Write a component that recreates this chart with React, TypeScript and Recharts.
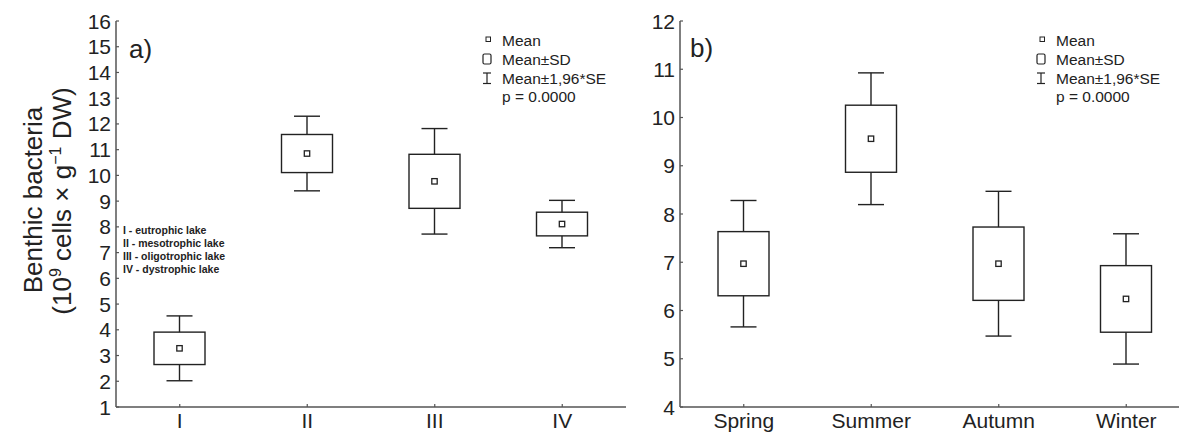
import { ComposedChart, Bar, XAxis, YAxis } from "recharts"

// panel a: lake types
const lakeNames = ["I", "II", "III", "IV"]
const lakeMean = [3.28, 10.85, 9.77, 8.11]
const lakeSd = [0.63, 0.74, 1.05, 0.46]
const lakeCi = [1.26, 1.45, 2.05, 0.92] // 1.96*SE
const lakeTicks = [1, 2, 3, 4, 5, 6, 7, 8, 9, 10, 11, 12, 13, 14, 15, 16]

// panel b: seasons
const seasonNames = ["Spring", "Summer", "Autumn", "Winter"]
const seasonMean = [6.97, 9.56, 6.97, 6.24]
const seasonSd = [0.665, 0.695, 0.76, 0.69]
const seasonCi = [1.31, 1.365, 1.5, 1.35]
const seasonTicks = [4, 5, 6, 7, 8, 9, 10, 11, 12]

const lakeNotes = ["I - eutrophic lake", "II - mesotrophic lake", "III - oligotrophic lake", "IV - dystrophic lake"]
const legendLabels = ["Mean", "Mean±SD", "Mean±1,96*SE", "p = 0.0000"]

const FONT = "'Liberation Sans', Arial, Helvetica, sans-serif"
const INK = "#222"
const FRAME = "#555"

const lakeData = lakeNames.map((name, i) => ({ name, mean: lakeMean[i], sd: lakeSd[i], ci: lakeCi[i] }))
const seasonData = seasonNames.map((name, i) => ({ name, mean: seasonMean[i], sd: seasonSd[i], ci: seasonCi[i] }))

// whisker range is the bar itself, box and mean placed on the same scale
function BoxShape(props: any) {
  const { x, y, width, height, payload } = props
  const hi = payload.mean + payload.ci
  const lo = payload.mean - payload.ci
  const ppu = height / (hi - lo)
  const py = (v: number) => y + (hi - v) * ppu
  const cx = x + width / 2
  const cap = 13
  return (
    <g stroke={INK} strokeWidth={1.4} fill="none">
      <line x1={cx} x2={cx} y1={py(hi)} y2={py(lo)} />
      <line x1={cx - cap} x2={cx + cap} y1={py(hi)} y2={py(hi)} />
      <line x1={cx - cap} x2={cx + cap} y1={py(lo)} y2={py(lo)} />
      <rect
        x={x}
        y={py(payload.mean + payload.sd)}
        width={width}
        height={py(payload.mean - payload.sd) - py(payload.mean + payload.sd)}
        fill="#fff"
      />
      <rect x={cx - 2.7} y={py(payload.mean) - 2.7} width={5.4} height={5.4} fill="#fff" strokeWidth={1.3} />
    </g>
  )
}

const LeftTick = (p: any) => (
  <g>
    <line x1={p.x + 5} x2={p.x + 8} y1={p.y} y2={p.y} stroke={FRAME} strokeWidth={1.2} />
    <text x={p.x} y={p.y} dy="0.36em" textAnchor="end" fontSize={21} fontFamily={FONT} fill={INK}>
      {p.payload.value}
    </text>
  </g>
)

const RightTick = (p: any) => (
  <line x1={p.x} x2={p.x - 3} y1={p.y} y2={p.y} stroke={FRAME} strokeWidth={1.2} />
)

const BottomTick = (p: any) => (
  <g>
    <line x1={p.x} x2={p.x} y1={p.y - 6} y2={p.y - 9} stroke={FRAME} strokeWidth={1.2} />
    <text x={p.x} y={p.y} dy="0.71em" textAnchor="middle" fontSize={21} fontFamily={FONT} fill={INK}>
      {p.payload.value}
    </text>
  </g>
)

const TopTick = (p: any) => (
  <line x1={p.x} x2={p.x} y1={p.y} y2={p.y + 3} stroke={FRAME} strokeWidth={1.2} />
)

function Panel({ data, ticks, yWidth, rightMargin }: any) {
  const dom = [ticks[0], ticks[ticks.length - 1]]
  const axisLine = { stroke: FRAME, strokeWidth: 1.5 }
  return (
    <ComposedChart
      width={640}
      height={432}
      data={data}
      margin={{ top: 21, right: rightMargin, bottom: 0, left: 0 }}
      barCategoryGap={0}
    >
      <XAxis dataKey="name" height={25} tickSize={0} tickMargin={6} tick={BottomTick} axisLine={axisLine} interval={0} />
      <XAxis xAxisId="top" orientation="top" dataKey="name" height={0} tickSize={0} tick={TopTick} axisLine={axisLine} interval={0} />
      <YAxis domain={dom} ticks={ticks} width={yWidth} tickSize={0} tickMargin={5} tick={LeftTick} axisLine={axisLine} interval={0} />
      <YAxis yAxisId="r" orientation="right" domain={dom} ticks={ticks} width={0} tickSize={0} tickMargin={0} tick={RightTick} axisLine={axisLine} interval={0} />
      <Bar dataKey={(d: any) => [d.mean - d.ci, d.mean + d.ci]} barSize={51} shape={BoxShape} isAnimationActive={false} />
    </ComposedChart>
  )
}

function Legend({ x }: { x: number }) {
  const rows = [45.5, 64.5, 83.5, 102]
  return (
    <g fontFamily={FONT} fontSize={15.5} fill={INK}>
      <rect x={x - 16} y={37} width={4.5} height={4.5} fill="none" stroke={INK} strokeWidth={1} />
      <rect x={x - 19} y={54} width={8} height={10} rx={1.5} fill="none" stroke={INK} strokeWidth={1.2} />
      <g stroke={INK} strokeWidth={1.2}>
        <line x1={x - 19} x2={x - 11} y1={73} y2={73} />
        <line x1={x - 19} x2={x - 11} y1={83.5} y2={83.5} />
        <line x1={x - 15} x2={x - 15} y1={73} y2={83.5} />
      </g>
      {legendLabels.map((t, i) => (
        <text key={t} x={x} y={rows[i]}>
          {t}
        </text>
      ))}
    </g>
  )
}

export default function App() {
  return (
    <div style={{ position: "absolute", left: 0, top: 0, width: 1179, height: 432, overflow: "hidden", background: "#fff" }}>
      <div style={{ position: "absolute", left: 0, top: 0 }}>
        <Panel data={lakeData} ticks={lakeTicks} yWidth={116} rightMargin={14} />
      </div>
      <div style={{ position: "absolute", left: 560, top: 0 }}>
        <Panel data={seasonData} ticks={seasonTicks} yWidth={120} rightMargin={10} />
      </div>
      <svg width={1179} height={432} style={{ position: "absolute", left: 0, top: 0, pointerEvents: "none" }}>
        <g fontFamily={FONT} fill={INK}>
          <text transform="rotate(-90)" x={-200} y={42} textAnchor="middle" fontSize={26}>
            Benthic bacteria
          </text>
          <text transform="rotate(-90)" x={-201} y={71} textAnchor="middle" fontSize={26}>
            (10
            <tspan dy={-10} fontSize={16}>9</tspan>
            <tspan dy={10}> cells × g</tspan>
            <tspan dy={-10} fontSize={16}>−1</tspan>
            <tspan dy={10}> DW)</tspan>
          </text>
          <text x={129} y={58} fontSize={26}>a)</text>
          <text x={690} y={57} fontSize={26}>b)</text>
          <g fontSize={10.5} fontWeight={700}>
            {lakeNotes.map((t, i) => (
              <text key={t} x={123} y={234 + i * 13}>
                {t}
              </text>
            ))}
          </g>
        </g>
        <Legend x={502} />
        <Legend x={1056} />
      </svg>
    </div>
  )
}
